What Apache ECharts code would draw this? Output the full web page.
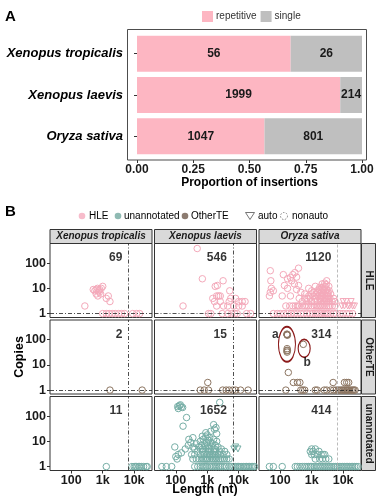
<!DOCTYPE html>
<html><head><meta charset="utf-8">
<script src="https://cdn.jsdelivr.net/npm/echarts@6/dist/echarts.min.js"></script>
<style>html,body{margin:0;padding:0;background:#fff}#c{width:378px;height:500px}</style>
</head><body><div id="c"></div>
<script>
// ---------- Panel A data ----------
const species = ['Xenopus tropicalis', 'Xenopus laevis', 'Oryza sativa'];
const repetitive = [56, 1999, 1047];
const single = [26, 214, 801];
const propTicks = [0, 0.25, 0.5, 0.75, 1];

// ---------- Panel B data ----------
const rowTypes = ['HLE', 'OtherTE', 'unannotated'];
const lengthTicks = [100, 1000, 10000];
const lengthTickLabels = ['100', '1k', '10k'];
const copiesTicks = [1, 10, 100];
const copiesTickLabels = ['1', '10', '100'];
const counts = [[69, 546, 1120], [2, 15, 314], [11, 1652, 414]];
const cutoffLength = 6500;

const hle_xt = [[270,2],[500,9],[560,8],[620,9],[680,10],[740,8],[800,9],[900,10],[1000,12],[620,6],[700,5],[780,7],[860,6],[1300,4],[1500,5],[1700,3],[1000,1],[1300,1],[1600,1],[2000,1],[2500,1],[3200,1],[4000,1],[5000,1],[9000,1],[12000,1],[15000,1]];
const hle_xl = [[480,380],[700,24],[3200,20],[1800,12],[2100,13],[5200,8],[2300,5],[2000,5],[2600,5],[1500,4],[1700,3],[5600,4],[5000,3],[8000,4],[10000,3],[13000,3],[16000,3],[10000,2],[13000,2],[170,2],[3300,2],[4500,2],[7000,2],[2000,2],[2600,3],[1100,1],[1300,1],[3000,1],[4500,1],[6000,1],[7500,1],[9000,1],[18000,1],[24000,1]];
const hle_os = [[48,50],[50,20],[52,10],[48,7],[45,5],[60,8],[125,35],[170,24],[210,27],[250,35],[290,42],[380,63],[135,13],[170,10],[280,15],[380,13],[115,5],[210,5],[450,7],[2150,15],[1800,11],[330,28],[230,20],[330,9],[600,6],[800,10],[1000,8],[1300,12],[3000,20],[2600,16],[3500,12],
  [400,4],[500,3],[600,4],[700,3],[800,5],[900,4],[1000,6],[1100,5],[1200,7],[1300,4],[1400,6],[1500,8],[1600,5],[1700,9],[1800,6],[1900,4],[2000,7],[2100,10],[2200,5],[2400,8],[2500,6],[2700,12],[2800,7],[3000,9],[3200,6],[3400,5],[3600,8],[3800,4],[4000,6],[4500,3],[5000,4],[5500,3],[1000,3],[1500,3],[2000,3],[2500,3],[3000,3],[3500,3],[1800,4],[2300,4],[2800,4],[3300,4],[1200,3],[700,4],[1600,7],[2300,9],[2900,14],[2000,5],[2600,4],[3100,5],[2200,11],[2500,9],[3300,7],
  [150,2],[200,2],[250,2],[300,2],[350,2],[400,2],[500,2],[600,2],[700,2],[800,2],[1000,2],[1200,2],[1400,2],[1600,2],[1800,2],[2000,2],[2300,2],[2600,2],[3000,2],[3400,2],[3800,2],[4500,2],[5500,2],
  [60,1],[80,1],[100,1],[130,1],[170,1],[220,1],[280,1],[350,1],[450,1],[550,1],[700,1],[900,1],[1100,1],[1300,1],[1500,1],[1800,1],[2100,1],[2500,1],[2900,1],[3300,1],[4000,1],[5000,1],[6000,1],[8000,1],[10000,1],[13000,1],[16000,1],[20000,1]];
const hle_os_auto = [[9000,2],[10000,3],[11000,2],[12500,3],[14000,2],[16000,2],[18000,3],[20000,2],[23000,2]];

const te_xt = [[1700,1],[18000,1]];
const te_xl = [[1040,2],[600,1],[800,1],[1100,1],[3100,1],[4000,1],[5000,1],[6500,1],[8000,1],[11500,1],[20000,1]];
const te_os = [[165,160],[168,150],[162,165],[165,155],[165,44],[165,32],[168,38],[162,36],[540,65],[180,5],[260,2],[350,2],[420,2],[4800,2],[11000,2],[13000,2],[15000,2],
  [150,1],[450,1],[520,1],[600,1],[1300,1],[1500,1],[2500,1],[3000,1],[4000,1],[5000,1],[6000,1],[7000,1],[8000,1],[9000,1],[10000,1],[11000,1],[12000,1],[13000,1],[14000,1],[15000,1],[16000,1],[18000,1],[20000,1],[22000,1],[24000,1]];

const un_xt = [[1300,1],[8500,1],[10000,1],[11000,1],[12000,1],[14000,1],[15000,1],[17000,1],[20000,1],[24000,1],[26000,1]];
const un_xl = [[115,240],[130,260],[150,230],[165,220],[120,200],[140,280],[2500,350],[220,88],[170,40],[1600,46],[1700,30],[1900,35],
  [93,6],[100,2.5],[110,2],[120,3],[150,3.5],[200,5],[250,7],[300,9],[350,6],[400,5],[450,8],[500,4],[550,6],[600,10],[650,7],[700,5],[750,12],[800,8],[850,6],[900,15],[950,9],[1000,18],[1050,7],[1100,11],[1150,5],[1200,14],[1300,9],[1400,6],[1500,8],[1600,12],[1700,5],[1800,7],[2000,10],[2200,6],[2500,4],[2800,5],[3200,3],[3600,4],[4200,3],[260,12],[320,3],[400,3],[600,3],[800,3],[1000,3],[1200,3],[1500,3],[1800,3],[2200,3],[2600,3],[700,4],[900,4],[1100,4],[1300,4],[1600,4],[1900,4],[2000,20],[1300,25],[350,14],[700,16],[900,22],
  [350,2],[450,2],[550,2],[650,2],[750,2],[850,2],[950,2],[1050,2],[1200,2],[1400,2],[1600,2],[1800,2],[2000,2],[2300,2],[2600,2],[3000,2],[3500,2],[4200,2],[5000,2],
  [36,1],[50,1],[74,1],[400,1],[500,1],[600,1],[700,1],[800,1],[900,1],[1000,1],[1200,1],[1400,1],[1600,1],[1800,1],[2000,1],[2300,1],[2600,1],[3000,1],[3500,1],[4000,1],[5000,1],[6000,1],[7000,1],[8000,1],[9000,1],[10000,1],[11000,1],[12000,1],[14000,1],[16000,1],[18000,1],[20000,1],[22000,1],[25000,1],[28000,1],[32000,1]];
const un_xl_auto = [[7000,5],[8000,6],[9500,5]];
const un_os = [[900,4],[1000,5],[1100,4],[1200,3],[1300,5],[1500,3],[1700,4],[2000,3],[2300,3],[2600,3],[1300,2],[1800,2],[2200,2],[2800,2],[3500,2],[1000,3],
  [45,1],[60,1],[115,1],[300,1],[350,1],[420,1],[500,1],[600,1],[700,1],[800,1],[900,1],[1000,1],[1200,1],[1400,1],[1600,1],[1800,1],[2000,1],[2300,1],[2600,1],[3000,1],[3400,1],[3800,1],[4300,1],[5000,1],[5800,1],[6600,1],[7500,1],[8500,1],[9500,1],[11000,1],[12500,1],[14000,1],[16000,1],[18000,1],[20000,1],[23000,1],[26000,1],[30000,1]];

const panels = [
  [{n: hle_xt, a: []}, {n: hle_xl, a: []}, {n: hle_os, a: hle_os_auto}],
  [{n: te_xt, a: []}, {n: te_xl, a: []}, {n: te_os, a: []}],
  [{n: un_xt, a: []}, {n: un_xl, a: un_xl_auto}, {n: un_os, a: []}]
];
const ellipses = [{value: [163, 65], size: [17, 35]}, {value: [575, 45], size: [12, 18]}];
const ellipseLabels = [{value: [69, 160], text: 'a'}, {value: [720, 12], text: 'b'}];

// ---------- styling / layout ----------
const FONT = 'Liberation Sans, Arial, sans-serif';
const rowColors = ['#f4a9ba', '#8c7561', '#76aea6'];
const colLeft = [50, 154.5, 259];
const rowTop = [243.5, 320, 396.5];
const PW = 102, PH = 74;

const chart = echarts.init(document.getElementById('c'), null, {renderer: 'canvas'});

const grids = [{left: 137, top: 33, width: 225, height: 124, containLabel: false}];
const xAxes = [{
  type: 'value', gridIndex: 0, min: 0, max: 1, interval: 0.25, offset: 3,
  axisLine: {show: false}, splitLine: {show: false},
  axisTick: {show: true, length: 3, lineStyle: {color: '#333'}},
  axisLabel: {fontFamily: FONT, fontWeight: 'bold', fontSize: 12, color: '#1a1a1a', margin: 4,
    formatter: v => v.toFixed(2)},
  name: 'Proportion of insertions', nameLocation: 'middle', nameGap: 16,
  nameTextStyle: {fontFamily: FONT, fontWeight: 'bold', fontSize: 12, color: '#000'}
}];
const yAxes = [{
  type: 'category', gridIndex: 0, data: species, inverse: true, offset: 10,
  axisLine: {show: false}, splitLine: {show: false},
  axisTick: {show: true, length: 3, alignWithLabel: true, lineStyle: {color: '#333'}},
  axisLabel: {fontFamily: FONT, fontWeight: 'bold', fontStyle: 'italic', fontSize: 13, color: '#000', margin: 4}
}];
const series = [
  {type: 'bar', name: 'repetitive', stack: 's', xAxisIndex: 0, yAxisIndex: 0, barWidth: 36,
   data: repetitive.map((r, i) => r / (r + single[i])),
   itemStyle: {color: '#fdb6c2'},
   label: {show: true, position: 'inside', formatter: p => repetitive[p.dataIndex],
     fontFamily: FONT, fontWeight: 'bold', fontSize: 12, color: '#1a1a1a'}},
  {type: 'bar', name: 'single', stack: 's', xAxisIndex: 0, yAxisIndex: 0, barWidth: 36,
   data: single.map((s, i) => s / (repetitive[i] + s)),
   itemStyle: {color: '#bfbfbf'},
   label: {show: true, position: 'inside', formatter: p => single[p.dataIndex],
     fontFamily: FONT, fontWeight: 'bold', fontSize: 12, color: '#1a1a1a'}}
];

const lenLabel = v => lengthTickLabels[lengthTicks.indexOf(Math.pow(10, Math.round(Math.log10(v))))] || '';
const copLabel = v => copiesTickLabels[copiesTicks.indexOf(Math.pow(10, Math.round(Math.log10(v))))] || '';

for (let r = 0; r < 3; r++) {
  for (let c = 0; c < 3; c++) {
    const g = grids.length;
    grids.push({left: colLeft[c], top: rowTop[r], width: PW, height: PH, show: true,
      backgroundColor: '#fff', borderColor: '#333', borderWidth: 1});
    xAxes.push({type: 'log', logBase: 10, gridIndex: g, min: 21, max: 37000,
      axisLine: {show: false}, splitLine: {show: false}, minorTick: {show: false},
      axisTick: {show: r === 2, length: 3, customValues: lengthTicks, lineStyle: {color: '#333'}},
      axisLabel: {show: r === 2, customValues: lengthTicks, fontFamily: FONT, fontWeight: 'bold', fontSize: 12.5,
        color: '#1a1a1a', margin: 4, formatter: lenLabel}});
    yAxes.push({type: 'log', logBase: 10, gridIndex: g, min: 0.7, max: 600,
      axisLine: {show: false}, splitLine: {show: false}, minorTick: {show: false},
      axisTick: {show: c === 0, length: 3, customValues: copiesTicks, lineStyle: {color: '#333'}},
      axisLabel: {show: c === 0, customValues: copiesTicks, fontFamily: FONT, fontWeight: 'bold', fontSize: 12.5,
        color: '#1a1a1a', margin: 4, formatter: copLabel}});
    const mlData = [{xAxis: cutoffLength, lineStyle: {color: c === 2 ? '#aaaaaa' : '#222', type: c === 2 ? [3, 2] : [4, 2, 1, 2]}}];
    if (r < 2) mlData.push({yAxis: 1, lineStyle: {color: '#222', type: [4, 2, 1, 2]}});
    series.push({type: 'scatter', name: rowTypes[r], xAxisIndex: g, yAxisIndex: g, silent: true,
      data: panels[r][c].n, symbol: 'circle', symbolSize: 6.5,
      itemStyle: {color: 'rgba(0,0,0,0)', borderColor: rowColors[r], borderWidth: 1, opacity: 1},
      markLine: {silent: true, symbol: 'none', label: {show: false}, lineStyle: {width: 0.8}, data: mlData}});
    if (panels[r][c].a.length) {
      series.push({type: 'scatter', name: rowTypes[r] + ' auto', xAxisIndex: g, yAxisIndex: g, silent: true,
        data: panels[r][c].a, symbol: 'triangle', symbolRotate: 180, symbolSize: 6,
        itemStyle: {color: 'rgba(0,0,0,0)', borderColor: rowColors[r], borderWidth: 1, opacity: 1}});
    }
    series.push({type: 'scatter', xAxisIndex: g, yAxisIndex: g, silent: true, symbolSize: 0,
      data: [[4200, 160]], z: 10,
      label: {show: true, position: 'left', distance: 0, formatter: () => String(counts[r][c]),
        fontFamily: FONT, fontWeight: 'bold', fontSize: 12, color: '#000'}});
    if (r === 1 && c === 2) {
      series.push({type: 'scatter', xAxisIndex: g, yAxisIndex: g, silent: true, z: 9,
        data: ellipses.map(e => ({value: e.value, symbolSize: e.size})), symbol: 'circle',
        itemStyle: {color: 'rgba(0,0,0,0)', borderColor: '#8b1a1a', borderWidth: 1.4, opacity: 1}});
      series.push({type: 'scatter', xAxisIndex: g, yAxisIndex: g, silent: true, symbolSize: 0, z: 10,
        data: ellipseLabels.map(e => ({value: e.value, name: e.text})),
        label: {show: true, position: 'inside', formatter: p => p.name,
          fontFamily: FONT, fontWeight: 'bold', fontSize: 12, color: '#000'}});
    }
  }
}

// ---------- graphics: strips, legend B, labels ----------
const graphic = [];
graphic.push({type: 'text', left: 5, top: 9, style: {text: 'A', font: 'bold 15px ' + FONT, fill: '#000'}});
graphic.push({type: 'text', left: 5, top: 204, style: {text: 'B', font: 'bold 15px ' + FONT, fill: '#000'}});
graphic.push({type: 'rect', shape: {x: 127.5, y: 29.5, width: 239, height: 130.5},
  style: {fill: 'none', stroke: '#4d4d4d', lineWidth: 1}, z: 5});
for (let c = 0; c < 3; c++) {
  graphic.push({type: 'rect', shape: {x: colLeft[c], y: 229.5, width: PW, height: 14},
    style: {fill: '#d9d9d9', stroke: '#333', lineWidth: 1}});
  graphic.push({type: 'text', x: colLeft[c] + PW / 2, y: 236.5,
    style: {text: species[c], align: 'center', verticalAlign: 'middle', font: 'italic bold 10px ' + FONT, fill: '#1a1a1a'}});
}
for (let r = 0; r < 3; r++) {
  graphic.push({type: 'rect', shape: {x: 361.5, y: rowTop[r], width: 14, height: PH},
    style: {fill: '#d9d9d9', stroke: '#333', lineWidth: 1}});
  graphic.push({type: 'text', x: 368.5, y: rowTop[r] + PH / 2, rotation: -Math.PI / 2,
    style: {text: rowTypes[r], align: 'center', verticalAlign: 'middle', font: 'bold 10px ' + FONT, fill: '#1a1a1a'}});
}
graphic.push({type: 'text', x: 20, y: 357, rotation: Math.PI / 2,
  style: {text: 'Copies', align: 'center', verticalAlign: 'middle', font: 'bold 12.5px ' + FONT, fill: '#000'}});
graphic.push({type: 'text', x: 205, y: 490,
  style: {text: 'Length (nt)', align: 'center', verticalAlign: 'middle', font: 'bold 12.5px ' + FONT, fill: '#000'}});
// legend B
const LY = 216;
const legFont = '10px ' + FONT;
graphic.push({type: 'circle', shape: {cx: 82, cy: LY, r: 3.3}, style: {fill: '#f7bccb'}});
graphic.push({type: 'text', x: 89, y: LY, style: {text: 'HLE', verticalAlign: 'middle', font: legFont, fill: '#000'}});
graphic.push({type: 'circle', shape: {cx: 118, cy: LY, r: 3.3}, style: {fill: '#8fbab3'}});
graphic.push({type: 'text', x: 124, y: LY, style: {text: 'unannotated', verticalAlign: 'middle', font: legFont, fill: '#000'}});
graphic.push({type: 'circle', shape: {cx: 185, cy: LY, r: 3.3}, style: {fill: '#8c7b70'}});
graphic.push({type: 'text', x: 191, y: LY, style: {text: 'OtherTE', verticalAlign: 'middle', font: legFont, fill: '#000'}});
graphic.push({type: 'polygon', shape: {points: [[245.5, 212.5], [254.5, 212.5], [250, 219.5]]},
  style: {fill: 'none', stroke: '#666', lineWidth: 0.9}});
graphic.push({type: 'text', x: 258, y: LY, style: {text: 'auto', verticalAlign: 'middle', font: legFont, fill: '#000'}});
graphic.push({type: 'circle', shape: {cx: 284, cy: LY, r: 3.5},
  style: {fill: 'none', stroke: '#777', lineWidth: 0.9, lineDash: [1.5, 1.5]}});
graphic.push({type: 'text', x: 292, y: LY, style: {text: 'nonauto', verticalAlign: 'middle', font: legFont, fill: '#000'}});

chart.setOption({
  animation: false,
  backgroundColor: '#fff',
  textStyle: {fontFamily: FONT},
  legend: {data: ['repetitive', 'single'], left: 202, top: 11, icon: 'rect', itemWidth: 11, itemHeight: 11,
    itemGap: 4, padding: 0, selectedMode: false,
    textStyle: {fontFamily: FONT, fontSize: 10, color: '#333', padding: [0, 0, 0, -2]}},
  grid: grids, xAxis: xAxes, yAxis: yAxes, series: series, graphic: graphic
});
</script></body></html>
